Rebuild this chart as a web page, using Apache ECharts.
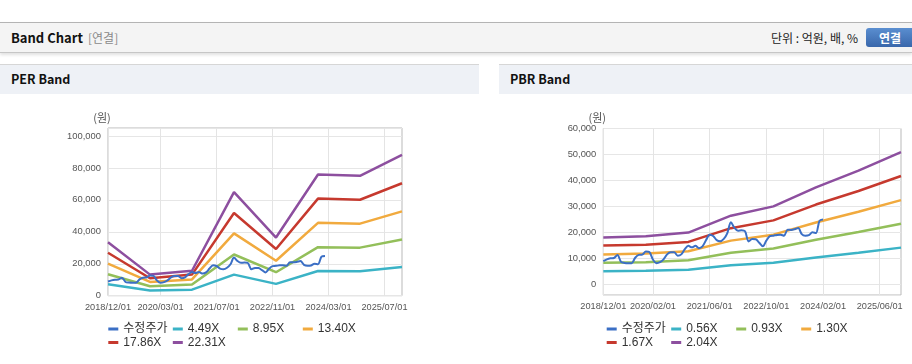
<!DOCTYPE html>
<html>
<head>
<meta charset="utf-8">
<script src="https://cdn.jsdelivr.net/npm/echarts@6/dist/echarts.min.js"></script>
<style>
  html, body { margin: 0; padding: 0; background: #ffffff; }
  body { width: 912px; height: 364px; position: relative; overflow: hidden; font-family: "Noto Sans CJK KR", "Liberation Sans", sans-serif; }
  .bar { position: absolute; left: 0; top: 22px; width: 912px; height: 29px; background: #f4f4f4; border-top: 1px solid #b4b4b4; border-bottom: 1px solid #c6c6c6; box-shadow: 0 2px 3px rgba(0,0,0,0.12); }
  .t { position: absolute; white-space: nowrap; line-height: 1; }
  .ph { position: absolute; top: 64px; height: 29px; background: #eef1f6; border-top: 1px solid #d6d6d6; }
  .btn { position: absolute; left: 866px; top: 28px; width: 52px; height: 19px; border-radius: 3px; background: linear-gradient(#5a8ed0, #3967ab); color: #fff; font-weight: bold; font-size: 12px; text-align: center; line-height: 19px; }
  #chart { position: absolute; left: 0; top: 0; width: 912px; height: 364px; }
</style>
</head>
<body>
<div class="bar"></div>
<div class="t" style="left:11px;top:31px;font-size:13px;font-weight:bold;color:#111;">Band Chart</div>
<div class="t" style="left:88px;top:32px;font-size:12px;color:#8a8a8a;">[연결]</div>
<div class="t" style="right:54px;top:32px;font-size:12px;color:#222;">단위 : 억원, 배, %</div>
<div class="btn"><span style="margin-right:4px">연결</span></div>
<div class="ph" style="left:0;width:479px;"></div>
<div class="ph" style="left:499px;width:413px;"></div>
<div class="t" style="left:11px;top:73px;font-size:12.5px;font-weight:bold;color:#111;">PER Band</div>
<div class="t" style="left:510px;top:73px;font-size:12.5px;font-weight:bold;color:#111;">PBR Band</div>
<div id="chart"></div>
<script>
// ---- data ----
const categories = [
  '2018/12/01',
  '2019/01/01','2019/02/01','2019/03/01','2019/04/01','2019/05/01','2019/06/01','2019/07/01','2019/08/01','2019/09/01','2019/10/01','2019/11/01','2019/12/01',
  '2020/01/01','2020/02/01','2020/03/01','2020/04/01','2020/05/01','2020/06/01','2020/07/01','2020/08/01','2020/09/01','2020/10/01','2020/11/01','2020/12/01',
  '2021/01/01','2021/02/01','2021/03/01','2021/04/01','2021/05/01','2021/06/01','2021/07/01','2021/08/01','2021/09/01','2021/10/01','2021/11/01','2021/12/01',
  '2022/01/01','2022/02/01','2022/03/01','2022/04/01','2022/05/01','2022/06/01','2022/07/01','2022/08/01','2022/09/01','2022/10/01','2022/11/01','2022/12/01',
  '2023/01/01','2023/02/01','2023/03/01','2023/04/01','2023/05/01','2023/06/01','2023/07/01','2023/08/01','2023/09/01','2023/10/01','2023/11/01','2023/12/01',
  '2024/01/01','2024/02/01','2024/03/01','2024/04/01','2024/05/01','2024/06/01','2024/07/01','2024/08/01','2024/09/01','2024/10/01','2024/11/01','2024/12/01',
  '2025/01/01','2025/02/01','2025/03/01','2025/04/01','2025/05/01','2025/06/01','2025/07/01','2025/08/01','2025/09/01','2025/10/01','2025/11/01','2025/12/01'
];
const perTickLabels = ['2018/12/01','2020/03/01','2021/07/01','2022/11/01','2024/03/01','2025/07/01'];
const pbrTickLabels = ['2018/12/01','2020/02/01','2021/06/01','2022/10/01','2024/02/01','2025/06/01'];

// adjusted price (수정주가), monthly from 2018/12
const priceValues = [
  8900, 9600, 10000, 10100, 11300, 8600, 8200, 8100, 8100, 10200, 11300, 11400,
  12600, 12400, 9500, 8100, 8500, 9600, 11500, 12300, 12300, 11000, 11500, 13500,
  14800, 14200, 14800, 13900, 14600, 17000, 19100, 18600, 17000, 16600, 17500, 19700,
  23900, 21700, 20600, 20800, 20400, 16500, 17400, 17300, 16000, 14600, 16800, 18500,
  18700, 19000, 19100, 18700, 21000, 20900, 21200, 21700, 19300, 18700, 18900, 20000,
  19700, 24400, 24900
];

// band values at each December
const bandDates = ['2018/12/01','2019/12/01','2020/12/01','2021/12/01','2022/12/01','2023/12/01','2024/12/01','2025/12/01'];
const perNames = ['4.49X','8.95X','13.40X','17.86X','22.31X'];
const per449  = [7100, 3300, 3800, 13200, 7400, 15500, 15300, 17900];
const per895  = [13400, 5900, 7000, 25800, 14700, 30400, 30100, 35200];
const per1340 = [20100, 8600, 10200, 39000, 21900, 45600, 45100, 52800];
const per1786 = [26900, 10900, 13200, 51800, 29200, 60800, 60100, 70400];
const per2231 = [33500, 13200, 15600, 64800, 36400, 75900, 75100, 88100];

const pbrNames = ['0.56X','0.93X','1.30X','1.67X','2.04X'];
const pbr056 = [5000, 5200, 5600, 7300, 8300, 10300, 12100, 14100];
const pbr093 = [8300, 8500, 9200, 12100, 13800, 17100, 20100, 23300];
const pbr130 = [11500, 11800, 12700, 16800, 19100, 23800, 27900, 32400];
const pbr167 = [14900, 15200, 16300, 21600, 24600, 30700, 35900, 41700];
const pbr204 = [18000, 18500, 19900, 26400, 30000, 37300, 43800, 50900];

const priceName = '수정주가';
const bandColors = ['#3bb3c6', '#93bf5a', '#f1aa3e', '#c6392e', '#8d4f9f'];
const priceColor = '#3b6fc5';

// ---- build ----
const FONT = '"Liberation Sans", "Noto Sans CJK KR", sans-serif';

function pairs(vals) { return bandDates.map((d, i) => [d, vals[i]]); }

function xAxisFor(gi, ticks) {
  const show = (idx) => ticks.indexOf(categories[idx]) >= 0;
  return {
    type: 'category', gridIndex: gi, data: categories, boundaryGap: false,
    axisLine: { show: false },
    axisTick: { show: false, interval: show },
    splitLine: { show: true, interval: show, lineStyle: { color: '#e4e4e4', width: 1 } },
    axisLabel: { interval: show, margin: 7, color: '#555', fontSize: 9.2, fontFamily: FONT,
      showMinLabel: true, hideOverlap: false }
  };
}
function yAxisFor(gi, min, max, showMax) {
  return {
    type: 'value', gridIndex: gi, min: min, max: max,
    name: '(원)', nameLocation: 'end', nameGap: 5,
    nameTextStyle: { color: '#555', fontSize: 11, fontFamily: '"Noto Sans CJK KR", sans-serif', padding: [0, 12, 0, 0] },
    axisLine: { show: false }, axisTick: { show: false },
    splitLine: { show: true, lineStyle: { color: '#e6e6e6', width: 1 } },
    axisLabel: { margin: 7, color: '#555', fontSize: 9.4, fontFamily: FONT, showMaxLabel: showMax, showMinLabel: min === 0,
      formatter: v => v.toLocaleString('en-US') }
  };
}
function bandSeries(names, arrs, gi) {
  return names.map((n, k) => ({
    name: n, type: 'line', xAxisIndex: gi, yAxisIndex: gi, data: pairs(arrs[k]),
    showSymbol: false, symbol: 'none', color: bandColors[k],
    lineStyle: { width: 2.5, color: bandColors[k] }, z: 2, animation: false
  }));
}
function priceSeries(gi) {
  return {
    name: priceName, type: 'line', xAxisIndex: gi, yAxisIndex: gi, data: priceValues,
    showSymbol: false, symbol: 'none', smooth: 0.3, color: priceColor,
    lineStyle: { width: 2, color: priceColor }, z: 3, animation: false
  };
}
function legendItem(left, top, name) {
  return {
    left: left, top: top, padding: 0, orient: 'horizontal', data: [name],
    icon: 'rect', itemWidth: 10, itemHeight: 3, itemGap: 0, selectedMode: false,
    textStyle: { color: '#333', fontSize: 12, fontFamily: FONT }
  };
}
function legendsFor(x0, names) {
  const row1 = [priceName, names[0], names[1], names[2]];
  const row2 = [names[3], names[4]];
  const off = [0, 64.5, 129.5, 194.5];
  const out = [];
  row1.forEach((n, k) => out.push(legendItem(x0 + off[k], 323, n)));
  row2.forEach((n, k) => out.push(legendItem(x0 + off[k], 336.5, n)));
  return out;
}

const chart = echarts.init(document.getElementById('chart'), null, { renderer: 'canvas' });
chart.setOption({
  animation: false,
  grid: [
    { left: 108, top: 128, width: 294, height: 167.7, show: true, borderColor: '#b9b9b9', borderWidth: 1, backgroundColor: 'transparent' },
    { left: 603.3, top: 128.5, width: 297.7, height: 166.5, show: true, borderColor: '#b9b9b9', borderWidth: 1, backgroundColor: 'transparent' }
  ],
  xAxis: [xAxisFor(0, perTickLabels), xAxisFor(1, pbrTickLabels)],
  yAxis: [yAxisFor(0, 0, 105000, false), yAxisFor(1, -4150, 60000, true)],
  legend: [].concat(legendsFor(108.3, perNames), legendsFor(606.7, pbrNames)),
  series: [].concat(
    bandSeries(perNames, [per449, per895, per1340, per1786, per2231], 0),
    [priceSeries(0)],
    bandSeries(pbrNames, [pbr056, pbr093, pbr130, pbr167, pbr204], 1),
    [priceSeries(1)]
  )
});
</script>
</body>
</html>
